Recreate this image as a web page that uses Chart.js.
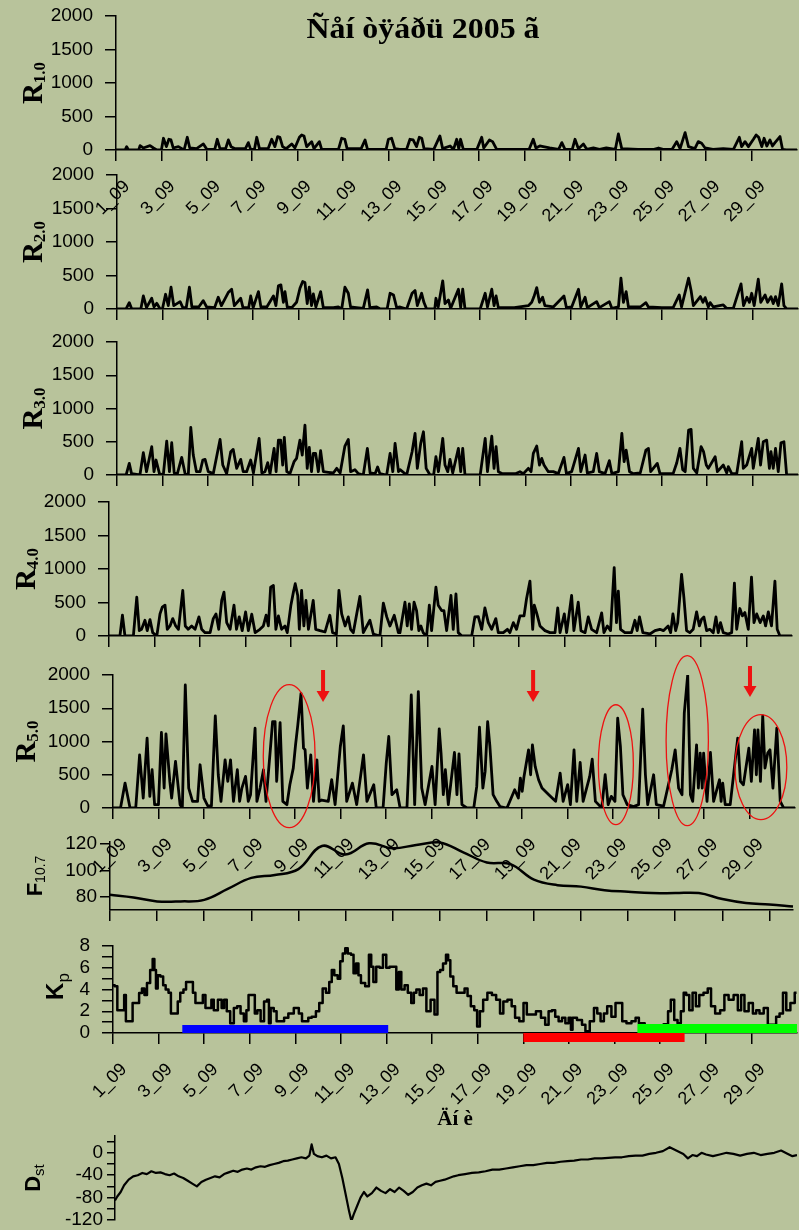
<!DOCTYPE html>
<html><head><meta charset="utf-8"><title>Sept 2005</title>
<script src="https://cdn.jsdelivr.net/npm/chart.js@4.4.1/dist/chart.umd.min.js"></script>
<style>
html,body{margin:0;padding:0;background:rgb(184,195,155);}
#wrap{position:relative;width:799px;height:1230px;overflow:hidden;background:rgb(184,195,155);}
#wrap canvas{position:absolute;left:0;}
#title{position:absolute;left:0;width:846px;top:12px;line-height:29px;text-align:center;font:bold 29px "Liberation Serif","Times New Roman",serif;color:#000;white-space:nowrap;transform:scaleX(1.1);transform-origin:423px 0;}
</style></head><body>
<div id="wrap">
<canvas id="c1"></canvas><canvas id="c2"></canvas><canvas id="c3"></canvas><canvas id="c4"></canvas>
<canvas id="c5"></canvas><canvas id="c6"></canvas><canvas id="c7"></canvas><canvas id="c8"></canvas>
<div id="title">Ñåí òÿáðü 2005 ã</div>
</div>
<script>
// ---------- data ----------
const dayTicks = [1,3,5,7,9,11,13,15,17,19,21,23,25,27,29];
const rTicks = [0,500,1000,1500,2000];
const fTicks = [80,100,120];
const kpTicks = [0,1,2,3,4,5,6,7,8];
const dstTicks = [20,0,-20,-40,-60,-80,-100,-120];

const r1 = [[1,0],[1.4,0],[1.47,50],[1.55,0],[2.0,0],[2.06,65],[2.2,30],[2.5,65],[2.65,30],[2.8,0],[3.0,0],[3.09,175],[3.22,50],[3.33,160],[3.42,150],[3.52,30],[3.75,50],[3.9,20],[4.0,0],[4.14,190],[4.25,30],[4.55,20],[4.85,90],[5.0,10],[5.35,10],[5.46,160],[5.58,20],[5.83,20],[5.95,150],[6.07,50],[6.25,20],[6.7,20],[6.83,110],[6.93,10],[7.1,10],[7.2,190],[7.32,20],[7.7,20],[7.86,160],[8.0,50],[8.12,200],[8.22,190],[8.34,50],[8.5,20],[8.74,90],[8.88,30],[9.08,190],[9.18,225],[9.28,210],[9.4,50],[9.62,125],[9.72,20],[9.96,125],[10.06,10],[10.8,10],[10.94,175],[11.08,160],[11.18,20],[11.8,20],[11.97,150],[12.08,10],[12.9,10],[13.0,160],[13.14,175],[13.28,20],[13.5,10],[13.8,10],[13.95,160],[14.09,150],[14.24,50],[14.36,190],[14.47,175],[14.57,20],[15.0,10],[15.27,210],[15.39,20],[15.72,60],[15.87,10],[16.01,160],[16.1,20],[16.18,160],[16.3,10],[16.9,10],[17.11,190],[17.2,30],[17.45,150],[17.59,125],[17.77,10],[19.2,10],[19.38,160],[19.5,30],[19.67,60],[19.82,50],[20.1,30],[20.5,10],[20.64,110],[20.78,10],[21.1,10],[21.22,160],[21.37,20],[21.59,90],[21.74,10],[22.03,30],[22.3,10],[22.6,30],[23.0,10],[23.13,240],[23.28,20],[24.0,10],[24.7,10],[24.9,30],[25.1,10],[25.5,10],[25.7,125],[25.85,20],[26.07,260],[26.22,50],[26.5,20],[26.65,125],[26.8,100],[26.95,30],[27.3,10],[27.75,20],[28.2,10],[28.46,190],[28.56,50],[28.71,125],[28.86,50],[29.08,160],[29.2,225],[29.31,190],[29.45,50],[29.55,175],[29.67,60],[29.81,150],[29.92,60],[30.03,110],[30.25,200],[30.36,10],[30.52,0],[31,0]];

const r2 = [[1,0],[1.4,0],[1.54,95],[1.65,0],[2.05,0],[2.16,195],[2.3,20],[2.53,160],[2.63,30],[2.75,85],[2.9,0],[3.0,0],[3.14,220],[3.26,50],[3.38,325],[3.5,50],[3.78,110],[3.9,20],[4.05,20],[4.19,325],[4.3,30],[4.6,30],[4.8,125],[4.95,30],[5.3,20],[5.46,175],[5.6,50],[5.9,245],[6.05,295],[6.17,50],[6.45,160],[6.55,20],[6.8,20],[6.89,195],[7.0,20],[7.23,260],[7.34,30],[7.6,30],[7.89,195],[8.0,50],[8.11,345],[8.22,360],[8.33,100],[8.4,260],[8.5,30],[8.7,20],[8.91,100],[9.06,310],[9.18,410],[9.28,395],[9.38,80],[9.47,325],[9.57,50],[9.65,225],[9.76,30],[9.97,260],[10.09,20],[10.53,20],[10.75,30],[10.9,0],[11.04,325],[11.19,235],[11.29,30],[11.55,20],[11.85,10],[12.04,285],[12.14,20],[12.44,30],[12.6,0],[12.9,0],[13.03,235],[13.18,210],[13.32,20],[13.47,30],[13.76,0],[14.0,235],[14.13,275],[14.23,50],[14.42,235],[14.52,100],[14.64,0],[15.0,0],[15.05,160],[15.15,30],[15.35,420],[15.45,80],[15.6,135],[15.7,10],[16.04,295],[16.14,20],[16.23,295],[16.33,0],[17.0,0],[17.22,235],[17.32,30],[17.51,295],[17.61,50],[17.7,195],[17.8,20],[18.5,20],[19.12,50],[19.27,100],[19.37,185],[19.49,320],[19.61,100],[19.75,175],[19.85,50],[20.22,30],[20.69,195],[20.8,20],[21.03,30],[21.33,295],[21.43,30],[21.62,175],[21.72,20],[22.13,110],[22.25,20],[22.69,110],[22.8,10],[23.09,30],[23.2,460],[23.31,100],[23.43,260],[23.53,30],[24.05,30],[24.3,95],[24.41,30],[25.0,20],[25.5,20],[25.77,210],[25.87,30],[26.18,460],[26.29,275],[26.39,50],[26.7,185],[26.81,100],[26.91,170],[27.05,30],[27.13,95],[27.27,30],[27.71,60],[27.85,10],[28.15,10],[28.49,375],[28.6,50],[28.75,175],[28.86,100],[28.96,235],[29.07,50],[29.25,445],[29.36,100],[29.55,210],[29.66,100],[29.81,185],[29.91,80],[30.01,185],[30.13,50],[30.28,375],[30.38,50],[30.5,0],[31,0]];

const r3 = [[1,0],[1.4,0],[1.54,175],[1.64,20],[2.01,0],[2.16,335],[2.3,50],[2.53,425],[2.63,50],[2.72,225],[2.87,20],[3.04,0],[3.19,510],[3.31,50],[3.41,485],[3.52,30],[3.66,20],[3.85,265],[4.0,20],[4.14,0],[4.25,715],[4.36,300],[4.5,50],[4.66,50],[4.78,225],[4.88,235],[5.02,50],[5.24,20],[5.54,535],[5.66,150],[5.83,20],[6.01,350],[6.12,385],[6.27,100],[6.45,235],[6.56,50],[6.71,50],[6.89,225],[7.01,30],[7.26,550],[7.38,30],[7.52,50],[7.64,185],[7.74,20],[7.92,400],[8.01,50],[8.11,525],[8.21,525],[8.3,150],[8.37,565],[8.48,50],[8.62,20],[8.8,200],[8.91,250],[9.06,525],[9.16,300],[9.28,750],[9.38,100],[9.47,415],[9.57,50],[9.65,325],[9.75,325],[9.87,50],[9.97,365],[10.09,50],[10.31,40],[10.53,30],[10.68,100],[10.83,30],[11.04,435],[11.19,535],[11.29,50],[11.48,80],[11.63,20],[11.85,0],[12.03,400],[12.15,30],[12.37,20],[12.48,120],[12.58,20],[12.88,0],[13.03,325],[13.15,50],[13.25,475],[13.4,50],[13.47,80],[13.76,0],[14.0,350],[14.13,625],[14.23,100],[14.38,475],[14.5,650],[14.62,100],[14.79,0],[14.95,0],[15.05,275],[15.16,50],[15.35,550],[15.45,150],[15.57,50],[15.67,235],[15.79,30],[16.04,400],[16.14,50],[16.23,400],[16.33,0],[17.0,0],[17.22,550],[17.32,50],[17.51,585],[17.61,100],[17.7,425],[17.8,50],[17.98,20],[18.55,20],[18.75,50],[18.9,20],[19.12,100],[19.24,50],[19.34,325],[19.49,435],[19.61,150],[19.71,250],[19.81,150],[20.0,50],[20.22,50],[20.44,20],[20.69,265],[20.8,20],[21.03,50],[21.33,400],[21.43,50],[21.62,300],[21.72,30],[21.98,50],[22.13,325],[22.25,50],[22.5,20],[22.69,215],[22.8,20],[23.09,50],[23.24,625],[23.34,200],[23.43,375],[23.58,50],[23.75,20],[24.05,30],[24.3,375],[24.41,400],[24.51,50],[24.8,175],[24.92,20],[25.5,20],[25.66,185],[25.8,400],[25.92,80],[26.03,50],[26.18,675],[26.29,685],[26.39,100],[26.54,30],[26.73,425],[26.84,350],[26.96,150],[27.05,100],[27.35,275],[27.45,50],[27.71,150],[27.86,30],[27.93,125],[28.08,20],[28.3,20],[28.52,500],[28.59,100],[28.74,150],[28.84,265],[28.96,400],[29.03,100],[29.25,550],[29.35,150],[29.47,500],[29.62,525],[29.74,100],[29.81,350],[29.91,100],[30.01,400],[30.13,50],[30.25,485],[30.38,500],[30.5,0],[31,0]];

const r4 = [[1,0],[1.48,0],[1.59,310],[1.7,0],[2.07,0],[2.22,580],[2.33,80],[2.43,100],[2.58,235],[2.68,80],[2.8,245],[2.92,50],[3.1,0],[3.24,330],[3.34,430],[3.46,460],[3.56,100],[3.68,150],[3.8,260],[3.93,150],[4.05,100],[4.24,680],[4.35,150],[4.48,100],[4.63,150],[4.78,100],[4.95,285],[5.07,100],[5.22,50],[5.44,50],[5.58,260],[5.7,330],[5.82,100],[5.95,530],[6.05,655],[6.17,200],[6.32,100],[6.49,460],[6.6,100],[6.72,285],[6.85,80],[7.0,360],[7.12,80],[7.27,325],[7.42,50],[7.63,100],[7.78,150],[7.9,310],[8.0,150],[8.1,730],[8.22,755],[8.33,100],[8.44,300],[8.58,100],[8.73,150],[8.83,50],[8.99,460],[9.1,655],[9.18,780],[9.29,605],[9.36,100],[9.46,680],[9.56,150],[9.65,530],[9.76,100],[9.97,530],[10.08,100],[10.27,80],[10.49,60],[10.7,310],[10.82,50],[10.99,30],[11.1,680],[11.22,330],[11.37,150],[11.51,285],[11.61,100],[11.73,50],[12.02,590],[12.17,50],[12.46,235],[12.61,30],[12.9,0],[13.05,490],[13.2,285],[13.34,150],[13.53,310],[13.71,50],[13.78,50],[14.0,505],[14.1,150],[14.19,480],[14.29,100],[14.4,505],[14.51,380],[14.61,80],[14.7,150],[14.8,50],[14.95,0],[15.07,460],[15.17,80],[15.36,730],[15.46,460],[15.61,380],[15.71,380],[15.83,80],[16.02,605],[16.12,100],[16.24,630],[16.34,50],[16.5,0],[16.93,0],[17.07,285],[17.22,290],[17.37,100],[17.51,420],[17.66,200],[17.81,100],[17.99,260],[18.1,50],[18.32,50],[18.5,100],[18.61,50],[18.76,200],[18.9,100],[19.05,300],[19.23,300],[19.34,555],[19.49,820],[19.61,100],[19.68,460],[19.78,350],[19.93,150],[20.15,80],[20.37,50],[20.59,50],[20.71,420],[20.81,50],[21.0,330],[21.1,50],[21.32,605],[21.42,80],[21.61,505],[21.73,80],[21.91,50],[22.05,285],[22.2,100],[22.42,50],[22.64,345],[22.74,50],[22.89,150],[23.03,80],[23.19,1020],[23.29,200],[23.37,670],[23.47,100],[23.66,50],[23.95,50],[24.1,235],[24.2,80],[24.3,285],[24.45,50],[24.76,30],[24.98,80],[25.2,100],[25.35,80],[25.56,150],[25.67,50],[25.77,330],[25.89,80],[25.98,200],[26.15,920],[26.25,580],[26.37,80],[26.51,50],[26.66,100],[26.81,360],[26.93,150],[27.03,250],[27.13,285],[27.25,80],[27.39,100],[27.54,50],[27.66,285],[27.76,50],[27.86,200],[27.98,50],[28.2,30],[28.35,50],[28.47,790],[28.57,100],[28.71,410],[28.82,300],[28.93,350],[29.08,100],[29.22,880],[29.33,200],[29.45,330],[29.6,200],[29.74,300],[29.84,150],[29.96,360],[30.1,150],[30.25,820],[30.35,100],[30.47,0],[31,0]];

const r5 = [[1,0],[1.33,0],[1.53,375],[1.75,0],[2.0,0],[2.17,800],[2.33,150],[2.5,1050],[2.62,175],[2.72,575],[2.83,50],[3.0,50],[3.13,1135],[3.25,300],[3.33,1115],[3.5,400],[3.58,150],[3.75,700],[3.95,50],[4.05,0],[4.18,1850],[4.33,300],[4.5,100],[4.72,100],[4.83,650],[4.9,450],[5.0,150],[5.17,30],[5.33,30],[5.5,1385],[5.63,500],[5.75,100],[5.93,725],[6.05,400],[6.17,725],[6.3,100],[6.47,575],[6.57,100],[6.67,300],[6.83,475],[6.95,100],[7.05,200],[7.25,1200],[7.33,100],[7.47,300],[7.62,575],[7.73,100],[7.92,875],[8.02,1300],[8.13,1300],[8.2,400],[8.35,1285],[8.47,100],[8.65,50],[8.78,350],[8.93,600],[9.03,950],[9.13,1250],[9.27,1725],[9.38,900],[9.45,875],[9.55,300],[9.7,800],[9.82,100],[9.97,725],[10.07,100],[10.18,120],[10.47,100],[10.62,425],[10.77,50],[11.0,925],[11.13,1235],[11.28,100],[11.53,375],[11.72,50],[12.02,800],[12.17,100],[12.47,350],[12.58,0],[12.88,0],[13.02,675],[13.13,1075],[13.27,200],[13.48,275],[13.63,0],[13.93,0],[14.0,550],[14.12,1700],[14.27,50],[14.43,1750],[14.58,300],[14.73,50],[15.03,625],[15.17,50],[15.35,1190],[15.43,825],[15.53,200],[15.62,575],[15.75,50],[16.02,835],[16.13,200],[16.22,815],[16.35,50],[16.57,0],[16.87,0],[17.0,325],[17.12,1215],[17.27,300],[17.37,550],[17.48,1300],[17.58,925],[17.72,200],[17.88,100],[18.03,20],[18.33,0],[18.67,275],[18.83,150],[18.92,450],[19.0,250],[19.08,475],[19.28,875],[19.37,500],[19.45,950],[19.57,625],[19.72,425],[19.87,300],[20.17,200],[20.47,100],[20.67,525],[20.8,100],[21.0,350],[21.12,50],[21.28,875],[21.4,100],[21.55,685],[21.68,100],[21.97,475],[22.08,735],[22.22,100],[22.5,0],[22.65,500],[22.78,50],[22.92,175],[23.08,100],[23.2,1350],[23.32,925],[23.43,200],[23.62,50],[23.9,20],[24.12,50],[24.3,1485],[24.42,500],[24.52,50],[24.78,500],[24.9,50],[25.22,30],[25.58,575],[25.73,875],[25.88,300],[26.03,200],[26.13,1425],[26.28,2000],[26.4,200],[26.5,100],[26.67,950],[26.75,300],[26.83,825],[26.92,300],[26.98,825],[27.13,100],[27.28,835],[27.42,100],[27.68,425],[27.75,100],[27.82,375],[27.93,50],[28.15,50],[28.48,1050],[28.6,400],[28.73,350],[28.97,900],[29.08,400],[29.22,1175],[29.3,500],[29.37,1175],[29.48,400],[29.58,1385],[29.68,600],[29.8,825],[29.9,875],[30.03,300],[30.2,1200],[30.35,100],[30.5,0],[31,0]];

const f107Days = [1,2,3,4,5,6,7,8,9,10,11,12,13,14,15,16,17,18,19,20,21,22,23,24,25,26,27,28,29,30];
const f107 = [81.5,79.5,76.5,76.5,77.7,86,94.3,96.5,101,118.5,112,120.5,116.7,119.3,121.2,113.7,106,104.7,93,88.8,87.7,85,83.8,82.8,82.8,82.8,78.3,75.3,74.2,72.7];

const kp = [[1.0,4.4],[1.15,4.3],[1.23,2.1],[1.45,2.1],[1.53,3.5],[1.6,1.07],[1.82,1.07],[1.9,2.75],[2.09,2.75],[2.2,3.67],[2.34,4.1],[2.42,3.5],[2.56,4.6],[2.7,5.8],[2.78,6.8],[2.85,5.8],[2.92,4.1],[3.0,5.3],[3.15,5.2],[3.25,4.4],[3.37,4.0],[3.5,3.7],[3.58,1.8],[3.8,1.8],[3.88,2.9],[4.02,3.7],[4.16,4.0],[4.25,4.7],[4.47,4.7],[4.54,3.7],[4.69,2.75],[4.9,2.75],[4.98,3.5],[5.13,2.3],[5.28,2.3],[5.35,3.05],[5.49,2.1],[5.71,3.05],[5.82,2.3],[5.93,3.05],[6.05,2.0],[6.23,0.9],[6.37,2.3],[6.52,2.45],[6.67,1.8],[6.81,1.07],[6.89,2.1],[7.0,3.5],[7.18,3.5],[7.26,1.8],[7.4,2.1],[7.55,1.07],[7.7,2.9],[7.81,3.05],[7.87,0.9],[7.96,2.3],[8.14,2.0],[8.21,1.07],[8.43,1.07],[8.58,1.4],[8.8,1.8],[9.06,2.3],[9.24,1.8],[9.34,1.07],[9.53,1.07],[9.6,1.4],[9.83,1.5],[9.97,2.0],[10.12,2.75],[10.27,4.1],[10.41,3.7],[10.56,4.7],[10.63,5.8],[10.78,5.3],[10.93,5.0],[11.0,6.6],[11.15,7.3],[11.22,7.8],[11.37,7.3],[11.51,7.2],[11.59,5.5],[11.73,6.4],[11.8,5.3],[11.95,4.6],[12.17,4.3],[12.28,7.2],[12.37,6.1],[12.47,4.7],[12.62,6.1],[12.77,6.0],[12.91,7.2],[13.06,6.0],[13.2,6.1],[13.35,6.1],[13.5,4.0],[13.57,5.6],[13.72,4.0],[13.86,4.4],[14.0,3.7],[14.16,2.75],[14.23,3.7],[14.38,4.0],[14.52,3.5],[14.67,4.1],[14.82,2.0],[15.04,3.05],[15.16,1.7],[15.3,5.6],[15.4,5.8],[15.55,6.4],[15.66,7.2],[15.74,6.7],[15.85,5.2],[16.0,4.3],[16.14,3.7],[16.36,3.7],[16.48,4.1],[16.62,3.4],[16.77,2.45],[16.92,2.1],[17.02,0.6],[17.16,2.0],[17.31,3.05],[17.53,3.7],[17.71,3.5],[17.9,3.05],[18.05,1.8],[18.19,2.9],[18.41,3.05],[18.56,2.45],[18.71,1.4],[18.93,1.07],[19.08,2.75],[19.22,1.7],[19.44,1.7],[19.66,2.0],[19.88,1.4],[20.03,0.75],[20.18,2.0],[20.32,2.1],[20.47,1.5],[20.62,1.07],[20.77,1.4],[20.91,0.9],[21.06,1.4],[21.11,0.3],[21.2,1.4],[21.5,1.2],[21.64,0.75],[21.8,0.15],[22.02,1.07],[22.17,2.3],[22.31,1.8],[22.46,1.07],[22.6,1.8],[22.75,2.45],[22.97,1.5],[23.11,2.75],[23.26,2.75],[23.41,1.07],[23.63,0.9],[23.85,1.07],[23.99,1.4],[24.14,0.9],[24.5,0.5],[25.0,0.5],[25.3,0.8],[25.39,2.0],[25.54,3.05],[25.69,1.2],[25.83,0.9],[25.98,2.0],[26.08,3.7],[26.2,3.5],[26.35,2.1],[26.49,3.7],[26.64,2.45],[26.79,3.5],[27.01,3.7],[27.16,4.1],[27.3,2.45],[27.52,1.8],[27.74,2.1],[27.89,3.5],[28.11,3.05],[28.33,3.5],[28.48,2.1],[28.62,3.5],[28.77,2.0],[28.99,2.75],[29.14,1.8],[29.28,2.1],[29.43,1.8],[29.65,2.3],[29.79,0.75],[30.01,0.75],[30.16,1.5],[30.31,1.8],[30.46,3.7],[30.6,2.1],[30.82,2.75],[30.98,3.7]];

const dst = [[1,-85],[1.1,-78],[1.25,-70],[1.4,-58],[1.6,-48],[1.8,-42],[2.0,-40],[2.2,-36],[2.4,-38],[2.6,-33],[2.8,-36],[3.0,-35],[3.2,-38],[3.4,-40],[3.6,-37],[3.8,-42],[4.0,-45],[4.2,-50],[4.4,-55],[4.6,-60],[4.8,-52],[5.0,-48],[5.2,-45],[5.4,-42],[5.6,-44],[5.8,-38],[6.0,-35],[6.2,-32],[6.4,-34],[6.6,-30],[6.8,-28],[7.0,-30],[7.2,-26],[7.4,-24],[7.6,-25],[7.8,-22],[8.0,-20],[8.2,-18],[8.4,-15],[8.6,-14],[8.8,-12],[9.0,-10],[9.2,-8],[9.4,-10],[9.55,-5],[9.65,15],[9.75,-2],[9.9,-6],[10.1,-8],[10.3,-5],[10.5,-10],[10.7,-8],[10.85,-20],[11.0,-45],[11.15,-75],[11.3,-105],[11.4,-122],[11.5,-110],[11.65,-95],[11.8,-80],[11.95,-70],[12.1,-78],[12.3,-72],[12.5,-62],[12.7,-68],[12.9,-72],[13.1,-65],[13.3,-70],[13.5,-62],[13.7,-68],[13.9,-75],[14.1,-70],[14.3,-62],[14.5,-58],[14.7,-55],[14.9,-58],[15.1,-52],[15.3,-50],[15.5,-48],[15.7,-45],[15.9,-42],[16.1,-40],[16.4,-38],[16.7,-36],[17.0,-35],[17.3,-33],[17.6,-30],[17.9,-30],[18.2,-28],[18.5,-26],[18.8,-24],[19.1,-22],[19.4,-22],[19.7,-20],[20.0,-18],[20.3,-18],[20.6,-16],[20.9,-15],[21.2,-14],[21.5,-12],[21.8,-12],[22.1,-10],[22.4,-10],[22.7,-9],[23.0,-8],[23.3,-8],[23.6,-6],[23.9,-5],[24.2,-5],[24.5,-2],[24.8,0],[25.1,3],[25.4,10],[25.6,6],[25.8,2],[26.0,-2],[26.2,-10],[26.4,-4],[26.6,-6],[26.8,0],[27.0,-3],[27.3,-6],[27.6,-3],[27.9,0],[28.2,-2],[28.5,-5],[28.8,-2],[29.1,0],[29.4,-4],[29.7,-2],[30.0,0],[30.3,4],[30.6,-2],[30.8,-6],[31,-4]];

// periods marked under the Kp panel: [day, level]
const kpBlue = [[4.04,0.37],[13.07,0.37]];
const kpRed = [[19.0,-0.41],[26.07,-0.41]];
const kpGreen = [[24.0,0.41],[31.0,0.41]];

// annotations on R5.0: [center day, center value, x radius (days), y radius (value)]
const r5Ellipses = [[8.75,779,1.14,1075],[23.12,651,0.77,902],[26.26,1012,0.93,1278],[29.5,614,1.14,790]];
// arrows: [day, top value, tip value]
const r5Arrows = [[10.24,2075,1594],[19.48,2075,1594],[29.02,2135,1669]];

// ---------- drawing ----------
Chart.defaults.font.family = '"Liberation Sans", Arial, sans-serif';
Chart.defaults.font.size = 18;
Chart.defaults.color = '#000';
Chart.defaults.animation = false;

function extrasPlugin(cfg) {
  return {
    id: 'extras',
    afterDraw(chart) {
      const ctx = chart.ctx, xs = chart.scales.x, ys = chart.scales.y, ca = chart.chartArea;
      ctx.save();
      if (cfg.ellipses) {
        ctx.strokeStyle = '#ee1111'; ctx.lineWidth = 1.3;
        cfg.ellipses.forEach(e => {
          const cx = xs.getPixelForValue(e[0]), cy = ys.getPixelForValue(e[1]);
          const rx = xs.getPixelForValue(e[0] + e[2]) - cx, ry = cy - ys.getPixelForValue(e[1] + e[3]);
          ctx.beginPath(); ctx.ellipse(cx, cy, rx, ry, 0, 0, Math.PI * 2); ctx.stroke();
        });
      }
      if (cfg.arrows) {
        ctx.fillStyle = '#ee1111';
        cfg.arrows.forEach(a => {
          const x = xs.getPixelForValue(a[0]), y0 = ys.getPixelForValue(a[1]), y1 = ys.getPixelForValue(a[2]);
          const hl = 11, hw = 6.5, sw = 2;
          ctx.fillRect(x - sw, y0, sw * 2, (y1 - y0) - hl + 1);
          ctx.beginPath(); ctx.moveTo(x - hw, y1 - hl); ctx.lineTo(x + hw, y1 - hl); ctx.lineTo(x, y1); ctx.closePath(); ctx.fill();
        });
      }
      if (cfg.ytitle) {
        const t = cfg.ytitle;
        const cy = (ca.top + ca.bottom) / 2 + (t.dy || 0);
        ctx.fillStyle = '#000';
        ctx.translate(t.x, cy); ctx.rotate(-Math.PI / 2);
        ctx.textAlign = 'left'; ctx.textBaseline = 'alphabetic';
        const widths = t.parts.map(p => { ctx.font = p.font; return ctx.measureText(p.t).width; });
        let px = -widths.reduce((s, w) => s + w, 0) / 2;
        t.parts.forEach((p, i) => { ctx.font = p.font; ctx.fillText(p.t, px, p.off || 0); px += widths[i]; });
      }
      ctx.restore();
    }
  };
}

function lineDs(pairs, extra) {
  return Object.assign({
    data: pairs.map(p => ({ x: p[0], y: p[1] })),
    borderColor: '#000', borderWidth: 2.8, pointRadius: 0, tension: 0, fill: false,
    borderJoinStyle: 'round'
  }, extra || {});
}

function panel(id, top, height, o) {
  const cv = document.getElementById(id);
  cv.width = 799; cv.height = height;
  cv.style.top = top + 'px'; cv.style.width = '799px'; cv.style.height = height + 'px';
  const padTop = o.areaTop - top;
  const xH = top + height - o.areaBottom;
  const hideX = !!o.hideX;
  return new Chart(cv, {
    type: 'line',
    data: { datasets: o.datasets },
    options: {
      responsive: false, animation: false, devicePixelRatio: 1, events: [],
      layout: { padding: { top: padTop, right: 799 - o.right, left: 0, bottom: 0 } },
      plugins: { legend: { display: false }, tooltip: { enabled: false }, title: { display: false } },
      scales: {
        x: {
          type: 'linear', min: o.xmin, max: o.xmax, offset: false,
          afterBuildTicks: s => { s.ticks = dayTicks.map(v => ({ value: v })); },
          afterFit: s => { s.height = xH; s.paddingLeft = 0; s.paddingRight = 0; },
          grid: { display: !hideX, drawOnChartArea: false, drawTicks: true, tickLength: 11, tickColor: '#000', tickWidth: 1.5, color: '#000', lineWidth: 1.5 },
          border: { display: !hideX, color: '#000', width: 1.5 },
          ticks: { display: !hideX, autoSkip: false, minRotation: 45, maxRotation: 45, padding: o.xpad || 0, labelOffset: o.xlo || 0, color: '#000', font: { size: 18 },
                   callback: o.xlabels ? (v => v + '_09') : (() => '') },
          title: o.xtitle ? { display: true, text: o.xtitle, color: '#000', font: { family: '"Liberation Serif", serif', size: 21, weight: 'bold' }, padding: { top: 0, bottom: 0 } } : { display: false }
        },
        y: {
          type: 'linear', min: o.ymin, max: o.ymax,
          afterBuildTicks: s => { s.ticks = o.yticks.map(v => ({ value: v })); },
          afterFit: s => { s.width = o.left; s.paddingTop = 0; s.paddingBottom = 0; },
          grid: { drawOnChartArea: false, drawTicks: true, tickLength: o.ytl || 11, tickColor: '#000', tickWidth: 1.5, color: '#000', lineWidth: 1.5 },
          border: { display: true, color: '#000', width: 1.5 },
          ticks: { padding: (o.ypad === undefined ? 12 : o.ypad), color: '#000', font: { size: 19 }, autoSkip: false,
                   callback: o.ycb || (v => String(v)) }
        }
      }
    },
    plugins: [extrasPlugin(o.extras || {})]
  });
}

const serifR = 'bold 29px "Liberation Serif", serif';
const serifSub = 'bold 17px "Liberation Serif", serif';
function rTitle(sub, x) { return { x: x, parts: [{ t: 'R', font: serifR }, { t: sub, font: serifSub, off: 3 }] }; }

panel('c1', 0, 250, { areaTop: 16, areaBottom: 150, left: 116, right: 797, xmin: 1, xmax: 31, ymin: 0, ymax: 2000, yticks: rTicks,
  xlabels: true, xpad: 15, xlo: 11, datasets: [lineDs(r1)], extras: { ytitle: rTitle('1.0', 42) } });
panel('c2', 160, 170, { areaTop: 175, areaBottom: 309, left: 117, right: 798, xmin: 1, xmax: 31, ymin: 0, ymax: 2000, yticks: rTicks,
  datasets: [lineDs(r2)], extras: { ytitle: rTitle('2.0', 42) } });
panel('c3', 325, 170, { areaTop: 342, areaBottom: 475, left: 117, right: 798, xmin: 1, xmax: 31, ymin: 0, ymax: 2000, yticks: rTicks,
  datasets: [lineDs(r3)], extras: { ytitle: rTitle('3.0', 42) } });
panel('c4', 490, 165, { areaTop: 502, areaBottom: 636, left: 109, right: 792, xmin: 1, xmax: 31, ymin: 0, ymax: 2000, yticks: rTicks,
  datasets: [lineDs(r4)], extras: { ytitle: rTitle('4.0', 35) } });
panel('c5', 645, 260, { areaTop: 675, areaBottom: 808, left: 113, right: 795, xmin: 1, xmax: 31, ymin: 0, ymax: 2000, yticks: rTicks,
  xlabels: true, xpad: 15, xlo: 11, datasets: [lineDs(r5)],
  extras: { ytitle: rTitle('5.0', 35), ellipses: r5Ellipses, arrows: r5Arrows } });
panel('c6', 830, 100, { areaTop: 842, areaBottom: 910, left: 110, right: 793, xmin: 1, xmax: 30, ymin: 70, ymax: 121.5, yticks: fTicks,
  ytl: 10, ypad: 3,
  datasets: [lineDs(f107Days.map((d, i) => [d, f107[i]]), { tension: 0.4, clip: false, borderWidth: 2.5 })],
  extras: { ytitle: { x: 42, parts: [{ t: 'F', font: 'bold 22px "Liberation Sans", Arial, sans-serif' }, { t: '10.7', font: '14px "Liberation Sans", Arial, sans-serif', off: 3 }] } } });
panel('c7', 935, 197, { areaTop: 946, areaBottom: 1033, left: 113, right: 797, xmin: 1, xmax: 31, ymin: 0, ymax: 8, yticks: kpTicks,
  ycb: v => (v % 2 === 0 ? String(v) : ''), xlabels: true, xpad: 15, xlo: 11, xtitle: 'Äí è',
  datasets: [
    lineDs(kpBlue, { borderColor: '#0000ff', borderWidth: 8, borderCapStyle: 'butt', clip: false }),
    lineDs(kpGreen, { borderColor: '#00ff00', borderWidth: 9, borderCapStyle: 'butt', clip: false }),
    lineDs(kpRed, { borderColor: '#ff0000', borderWidth: 9, borderCapStyle: 'butt', clip: false }),
    lineDs(kp, { stepped: 'middle', borderWidth: 2.5 })
  ],
  extras: { ytitle: { x: 63, dy: -3, parts: [{ t: 'K', font: 'bold 24px "Liberation Sans", Arial, sans-serif' }, { t: 'p', font: '17px "Liberation Sans", Arial, sans-serif', off: 6 }] } } });
panel('c8', 1128, 102, { areaTop: 1136, areaBottom: 1220, left: 115, right: 797, xmin: 1, xmax: 31, ymin: -120, ymax: 30, yticks: dstTicks,
  ytl: 8, ypad: 4, hideX: true, ycb: v => (v % 40 === 0 ? String(v) : ''),
  datasets: [lineDs(dst, { borderWidth: 2.2 })],
  extras: { ytitle: { x: 40, parts: [{ t: 'D', font: 'bold 22px "Liberation Sans", Arial, sans-serif' }, { t: 'st', font: '15px "Liberation Sans", Arial, sans-serif', off: 4 }] } } });
</script>
</body></html>
